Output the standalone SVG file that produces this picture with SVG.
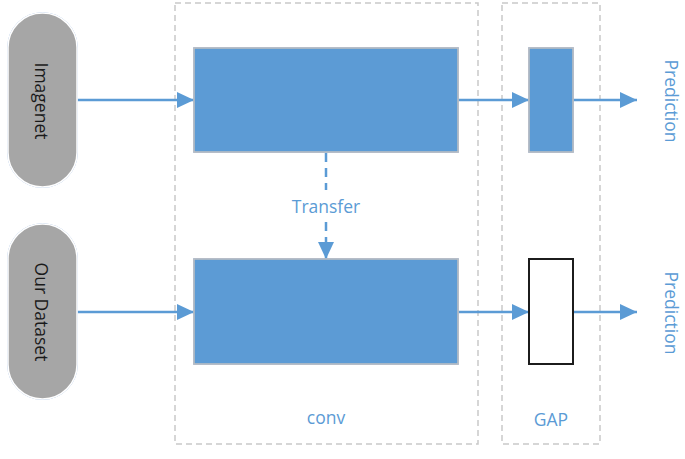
<svg xmlns="http://www.w3.org/2000/svg" width="685" height="459" viewBox="0 0 685 459">
<defs>
<style>
.grp{fill:none;stroke:#c9c9c9;stroke-width:1.5;stroke-dasharray:6,4}
.pill{fill:#a6a6a6;stroke:#ffffff;stroke-width:1.5}
.blk{fill:#5b9bd5;stroke:#c0c0c0;stroke-width:1.5}
.wblk{fill:#ffffff;stroke:#1a1a1a;stroke-width:2}
.lbl{font-family:"Open Sans","Liberation Sans",sans-serif;font-size:17.5px;text-anchor:middle;dominant-baseline:central}
.dark{fill:#1a1a1a}
.blue{fill:#5b9bd5}
.con{stroke:#5b9bd5;stroke-width:2.5;fill:none}
.dash{stroke-dasharray:9,6}
</style>
<marker id="ah" markerWidth="17" markerHeight="16" refX="17" refY="8" orient="auto" markerUnits="userSpaceOnUse">
<path d="M0,0 L17,8 L0,16 Z" fill="#5b9bd5"/>
</marker>
<filter id="sh" x="-20%" y="-20%" width="140%" height="140%">
<feGaussianBlur in="SourceAlpha" stdDeviation="3"/>
<feOffset dx="1" dy="4"/>
<feComponentTransfer><feFuncA type="linear" slope="0.15"/></feComponentTransfer>
<feFlood flood-color="#5b9bd5"/>
<feComposite in2="SourceAlpha" operator="in" result="c"/>
<feMerge><feMergeNode/><feMergeNode in="SourceGraphic"/></feMerge>
</filter>
</defs>
<rect width="685" height="459" fill="#ffffff"/>
<g id="conv-group">
<rect class="grp" x="175" y="3" width="303" height="441"/>
<text class="lbl blue" x="326" y="417">conv</text>
</g>
<g id="gap-group">
<rect class="grp" x="502" y="3" width="98" height="441"/>
<text class="lbl blue" x="551" y="419">GAP</text>
</g>
<g id="connectors">
<line class="con" x1="77" y1="100" x2="194" y2="100" marker-end="url(#ah)"/>
<line class="con" x1="77" y1="312" x2="194" y2="312" marker-end="url(#ah)"/>
<line class="con" x1="458" y1="100" x2="529" y2="100" marker-end="url(#ah)"/>
<line class="con" x1="458" y1="312" x2="529" y2="312" marker-end="url(#ah)"/>
<line class="con" x1="573" y1="100" x2="637" y2="100" marker-end="url(#ah)"/>
<line class="con" x1="573" y1="312" x2="637" y2="312" marker-end="url(#ah)"/>
<line class="con dash" x1="326" y1="153" x2="326" y2="190"/>
<line class="con dash" x1="326" y1="222" x2="326" y2="259" marker-end="url(#ah)"/>
<text class="lbl blue" x="326" y="206">Transfer</text>
</g>
<g id="imagenet">
<rect class="pill" x="8" y="13" width="69" height="174" rx="34.5" filter="url(#sh)"/>
<text class="lbl dark" transform="translate(42,101) rotate(90)">Imagenet</text>
</g>
<g id="our-dataset">
<rect class="pill" x="8" y="224" width="69" height="175" rx="34.5" filter="url(#sh)"/>
<text class="lbl dark" transform="translate(42,312) rotate(90)">Our Dataset</text>
</g>
<g id="conv-top">
<rect class="blk" x="194" y="48" width="264" height="104" filter="url(#sh)"/>
</g>
<g id="conv-bottom">
<rect class="blk" x="194" y="259" width="264" height="105" filter="url(#sh)"/>
</g>
<g id="gap-top">
<rect class="blk" x="529" y="48" width="44" height="104" filter="url(#sh)"/>
</g>
<g id="gap-bottom">
<rect class="wblk" x="529" y="259" width="44" height="105" filter="url(#sh)"/>
</g>
<g id="prediction-top">
<text class="lbl blue" transform="translate(672,101) rotate(90)">Prediction</text>
</g>
<g id="prediction-bottom">
<text class="lbl blue" transform="translate(672,313) rotate(90)">Prediction</text>
</g>
</svg>
